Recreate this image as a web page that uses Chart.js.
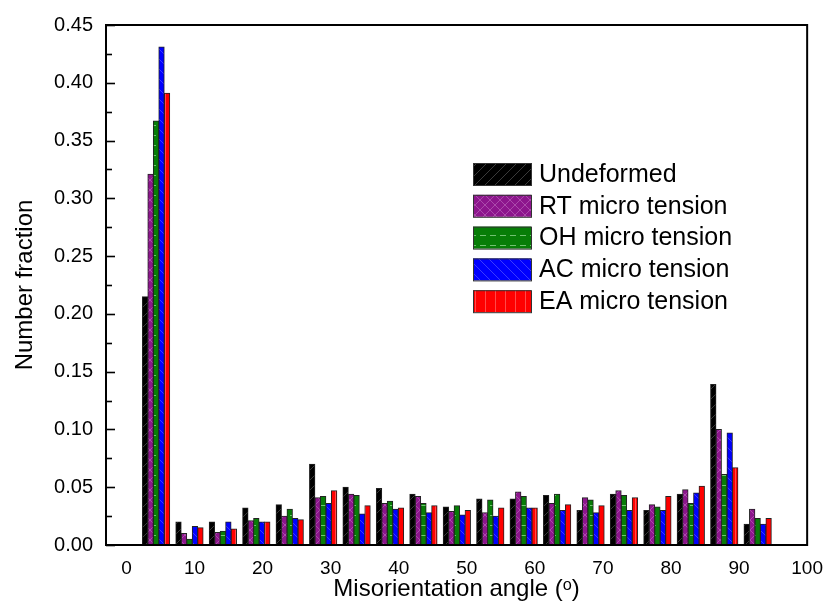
<!DOCTYPE html>
<html>
<head>
<meta charset="utf-8">
<script src="https://cdn.jsdelivr.net/npm/chart.js@4.4.1/dist/chart.umd.min.js"></script>
<style>
  body { margin: 0; background: #fff; }
  #wrap { width: 835px; height: 606px; }
</style>
</head>
<body>
<div id="wrap"><canvas id="chart" width="835" height="606"></canvas></div>
<script>
// bin centres (degrees)
const angles = [4.35, 9.26, 14.17, 19.08, 23.99, 28.90, 33.81, 38.72, 43.63, 48.54,
  53.45, 58.36, 63.27, 68.18, 73.09, 78.00, 82.91, 87.82, 92.73];

const undeformed = [0.215, 0.020, 0.020, 0.032, 0.035, 0.070, 0.050, 0.049, 0.044, 0.033,
  0.040, 0.040, 0.043, 0.030, 0.044, 0.030, 0.044, 0.139, 0.018];
const rtTension = [0.321, 0.010, 0.011, 0.021, 0.025, 0.041, 0.044, 0.036, 0.042, 0.029,
  0.028, 0.046, 0.036, 0.041, 0.047, 0.035, 0.048, 0.100, 0.031];
const ohTension = [0.367, 0.005, 0.012, 0.023, 0.031, 0.042, 0.043, 0.038, 0.036, 0.034,
  0.039, 0.042, 0.044, 0.039, 0.043, 0.033, 0.036, 0.061, 0.023];
const acTension = [0.431, 0.016, 0.020, 0.020, 0.023, 0.036, 0.027, 0.031, 0.028, 0.026,
  0.025, 0.032, 0.030, 0.028, 0.030, 0.030, 0.045, 0.097, 0.018];
const eaTension = [0.391, 0.015, 0.014, 0.020, 0.022, 0.047, 0.034, 0.032, 0.034, 0.030,
  0.032, 0.032, 0.035, 0.034, 0.041, 0.042, 0.051, 0.067, 0.023];

const seriesNames = ["Undeformed", "RT micro tension", "OH micro tension", "AC micro tension", "EA micro tension"];
const xTicks = [0, 10, 20, 30, 40, 50, 60, 70, 80, 90, 100];

const FONT = "'Liberation Sans', Arial, 'DejaVu Sans', sans-serif";

// faint hatch fills, roughly like the origin ones
function makePattern(bg, line, kind) {
  const c = document.createElement("canvas");
  c.width = 10; c.height = 10;
  const g = c.getContext("2d");
  g.fillStyle = bg;
  g.fillRect(0, 0, 10, 10);
  g.strokeStyle = line;
  g.lineWidth = 0.7;
  g.beginPath();
  if (kind === "fwd") { g.moveTo(0, 10); g.lineTo(10, 0); }
  if (kind === "back") { g.moveTo(0, 0); g.lineTo(10, 10); }
  if (kind === "cross") { g.moveTo(0, 10); g.lineTo(10, 0); g.moveTo(0, 0); g.lineTo(10, 10); }
  if (kind === "horiz") { g.moveTo(0, 5.5); g.lineTo(6, 5.5); }
  if (kind === "vert") { g.moveTo(5.5, 0); g.lineTo(5.5, 10); }
  g.stroke();
  return g.createPattern(c, "repeat");
}

const fills = [
  makePattern("#000000", "rgba(140,140,140,0.6)", "fwd"),
  makePattern("#8d168d", "rgba(240,190,240,0.45)", "cross"),
  makePattern("#077d07", "rgba(210,255,210,0.75)", "horiz"),
  makePattern("#0000ff", "rgba(140,140,255,0.6)", "back"),
  makePattern("#ff0000", "rgba(255,210,210,0.5)", "vert")
];

const allSeries = [undeformed, rtTension, ohTension, acTension, eaTension];

const datasets = allSeries.map((vals, i) => ({
  label: seriesNames[i],
  data: angles.map((a, j) => ({ x: a, y: vals[j] })),
  backgroundColor: fills[i],
  borderColor: "#222",
  borderWidth: 1,
  inflateAmount: 0.4,
  categoryPercentage: 0.82,
  barPercentage: 1.0
}));

// frame, inward y ticks and the legend box
const framePlugin = {
  id: "frame",
  afterDatasetsDraw(chart) {
    const { ctx, chartArea: a, scales } = chart;
    const y = scales.y;
    ctx.save();
    ctx.strokeStyle = "#000";
    ctx.lineWidth = 1.6;
    for (let v = 0; v <= 0.45001; v += 0.025) {
      const py = Math.round(y.getPixelForValue(v)) + 0.5;
      const major = Math.abs(v / 0.05 - Math.round(v / 0.05)) < 1e-6;
      ctx.beginPath();
      ctx.moveTo(a.left, py);
      ctx.lineTo(a.left + (major ? 9 : 6), py);
      ctx.stroke();
    }
    ctx.lineWidth = 2;
    ctx.strokeRect(a.left, a.top, a.right - a.left, a.bottom - a.top);

    // legend
    const lx = 473, sw = 58, sh = 22;
    let cy = 174;
    ctx.font = "25px " + FONT;
    ctx.textBaseline = "middle";
    ctx.textAlign = "left";
    chart.data.datasets.forEach((ds) => {
      ctx.fillStyle = ds.backgroundColor;
      ctx.fillRect(lx, cy - sh / 2, sw, sh);
      ctx.lineWidth = 1;
      ctx.strokeStyle = "#333";
      ctx.strokeRect(lx + 0.5, cy - sh / 2 + 0.5, sw, sh);
      ctx.fillStyle = "#000";
      ctx.fillText(ds.label, lx + sw + 8, cy + 1);
      cy += 31.8;
    });
    ctx.restore();
  }
};

new Chart(document.getElementById("chart"), {
  type: "bar",
  data: { datasets: datasets },
  plugins: [framePlugin],
  options: {
    responsive: false,
    animation: false,
    devicePixelRatio: 1,
    layout: { padding: { top: 23, right: 18, left: 0, bottom: 0 } },
    plugins: {
      legend: { display: false },
      tooltip: { enabled: false }
    },
    scales: {
      x: {
        type: "linear",
        min: -3,
        max: 100,
        offset: false,
        grid: { display: false, drawTicks: false, offset: false },
        border: { display: false },
        afterBuildTicks(s) { s.ticks = xTicks.map(v => ({ value: v })); },
        ticks: {
          color: "#000",
          font: { family: FONT, size: 19 },
          padding: 12,
          maxRotation: 0,
          callback: v => String(v)
        },
        title: {
          display: true,
          text: "Misorientation angle (ᵒ)",
          color: "#000",
          font: { family: FONT, size: 24 },
          padding: { top: 0, bottom: 2 }
        },
        afterFit(s) { s.height = 61; }
      },
      y: {
        min: 0,
        max: 0.45,
        grid: { display: false, drawTicks: false },
        border: { display: false },
        ticks: {
          stepSize: 0.05,
          color: "#000",
          font: { family: FONT, size: 20 },
          padding: 13,
          callback: v => v.toFixed(2)
        },
        title: {
          display: true,
          text: "Number fraction",
          color: "#000",
          font: { family: FONT, size: 24 },
          padding: { top: 11, bottom: 0 }
        },
        afterFit(s) { s.width = 106; }
      }
    }
  }
});
</script>
</body>
</html>
